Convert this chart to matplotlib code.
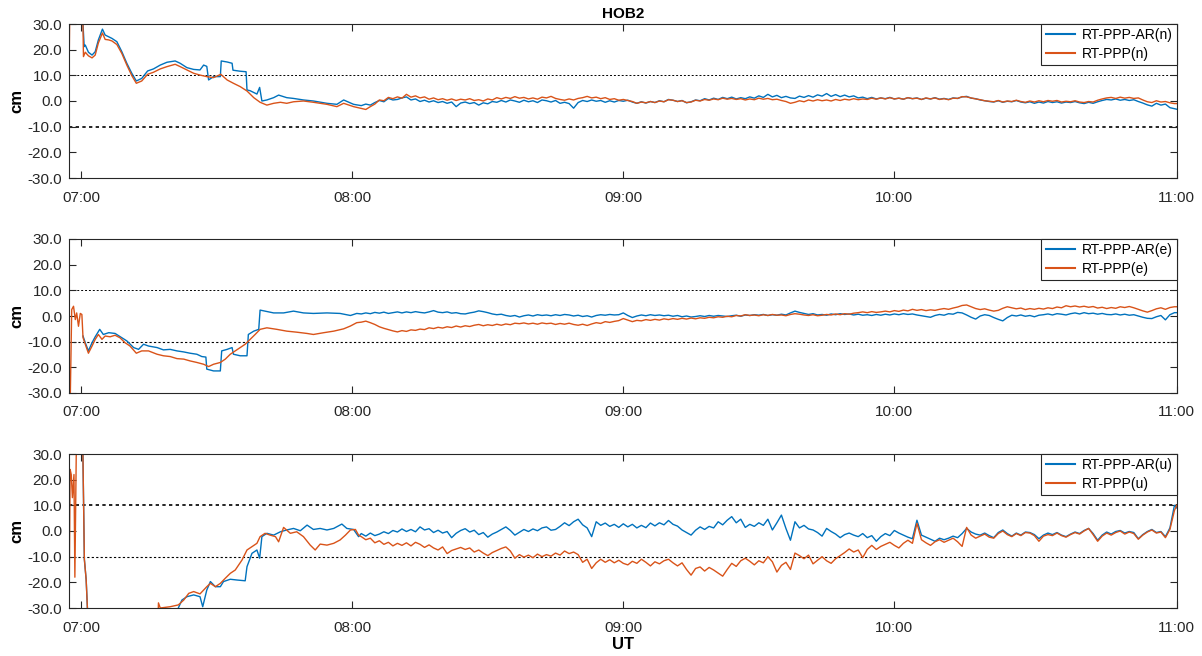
import numpy as np
import matplotlib
matplotlib.use("Agg")
import matplotlib.pyplot as plt
from matplotlib.ticker import FormatStrFormatter

plt.rcParams['font.family'] = ['Liberation Sans', 'DejaVu Sans']

# ---------------- data (time in minutes after 07:00 UT, values in cm) ----------------
tick_labels = ["07:00", "08:00", "09:00", "10:00", "11:00"]
y_ticks = [-30, -20, -10, 0, 10, 20, 30]
station = "HOB2"

# one-minute epochs (minutes 62..242 after 07:00) plus final epoch
t_late = list(range(62, 243)) + [242.5]

# ---------- North ----------
t_n_ar_early = [0.0, 0.4, 0.66, 0.9, 1.6, 2.4, 3.1, 3.8, 4.7, 5.3, 6.1, 6.8, 7.9, 9.0, 10.1, 11.2, 12.2, 13.4,
                14.7, 16.0, 17.5, 19.0, 20.8, 21.9, 23.4, 24.9, 26.3, 27.1, 27.8, 28.2, 29.3, 30.8, 31.0, 32.3,
                33.4, 33.6, 35.2, 36.5, 36.7, 37.4, 38.9, 39.5, 40.0, 41.1, 42.6, 43.7, 45.5, 47.0, 49.2, 51.4,
                54.4, 56.6, 58.1, 60.3]
v_n_ar_early = [40, 30, 21.2, 21.8, 19, 17.9, 19.2, 23.8, 28, 25.7, 25, 24.4, 23.1, 19.2, 14.7, 10.8, 7.8, 8.8,
                11.7, 12.5, 14, 15.1, 15.6, 14.7, 13, 12.3, 12.1, 14, 13.5, 8.2, 9.5, 9.5, 15.6, 15.2,
                14.7, 12, 11.6, 11.4, 4.3, 4, 2.7, 5.3, 0, 0.4, 1.3, 2.3, 1.3, 1, 0.4, 0,
                -0.9, -1.3, 0.4, -1.3]
v_n_ar_late = [-1.8, -1.2, -1.6, -0.6, 0.2, -0.3, 1.0, 0.4, 0.6, 1.2, 1.6, 0.4, 0.8, -0.2, 0.3, -0.4, 0.1, -0.6,
               -0.2, -0.9, -0.4, -2.2, -0.8, -0.4, -1.0, -0.6, -1.6, -0.7, -1.1, -0.2, -0.5, 0.2, -0.4, 0.4,
               0.0, -0.5, 0.3, -0.3, 0.1, -0.6, 0.4, 0.1, -0.4, 0.2, -0.9, -0.5, -1.0, -2.8, -0.6, 0.2, -0.2,
               0.4, -0.1, 0.2, -0.5, 0.1, -0.4, 0.2, -0.1, 0.3, -0.4, -0.9, -0.3, -0.8, -0.2, -0.6, 0.1, -0.3,
               0.6, 0.3, -0.2, 0.2, -0.7, -0.3, 0.4, 0.1, 0.9, 0.4, 1.1, 0.6, 1.4, 0.9, 1.5, 0.8, 1.3, 0.9,
               1.6, 1.1, 2.0, 1.4, 2.6, 1.6, 2.2, 1.3, 1.8, 1.2, 1.0, 1.9, 1.4, 2.1, 1.5, 2.4, 1.9, 2.9, 1.8,
               2.5, 1.7, 2.3, 1.6, 2.0, 1.2, 1.5, 0.9, 1.4, 0.8, 1.2, 0.9, 1.4, 0.8, 1.1, 0.7, 1.3, 0.9, 1.2,
               0.6, 1.1, 0.8, 1.3, 0.7, 1.0, 0.6, 1.2, 1.0, 1.6, 1.8, 1.1, 0.9, 0.4, 0.1, -0.2, -0.4, 0.1,
               -0.5, -0.1, -0.3, 0.2, -0.4, -0.7, -0.3, -0.9, -0.4, -0.8, -0.2, -0.6, -0.3, -0.8, -0.4, -0.6,
               -0.2, -0.7, -1.0, -0.5, -0.9, -0.3, 0.2, 0.6, 0.4, 0.8, 0.3, 0.6, 0.2, 0.5, -0.2, -0.8, -1.5,
               -2.0, -0.9, -1.6, -1.2, -2.6, -3.0, -3.2]

t_n_early = [-2.7, -2.5, 0.3, 0.5, 0.9, 1.6, 2.4, 3.1, 3.8, 4.7, 5.3, 6.1, 6.8, 7.9, 9.0, 10.1, 11.2, 12.2, 13.4,
             14.7, 16.0, 17.5, 19.0, 20.8, 21.9, 23.4, 24.9, 26.3, 27.8, 29.3, 30.9, 32.3, 33.7, 35.2, 36.7,
             38.2, 39.6, 41.1, 42.6, 44.1, 45.5, 47.0, 49.2, 51.4, 54.4, 56.6, 58.1, 60.3]
v_n_early = [10, 40, 40, 17.3, 19, 17.6, 16.8, 17.9, 22.6, 26.5, 24, 23.8, 23.4, 22, 18.5, 14, 9.9, 6.9, 7.8,
             10.4, 11.2, 12.5, 13.4, 14.3, 13.4, 12.1, 10.8, 10.1, 9.5, 9.1, 10.4, 8.2, 6.9, 5.6, 3.9,
             1.3, -0.5, -1.6, -0.9, -0.5, -0.9, -0.3, 0, -0.5, -1.3, -2.2, -0.9, -2.2]
v_n_late = [-2.9, -3.3, -2.2, -1.2, 0.4, 0.1, 1.4, 0.9, 1.6, 1.1, 2.6, 1.5, 2.0, 1.2, 1.6, 0.7, 1.2, 0.5, 0.9,
            0.3, 0.8, 0.2, 0.7, 0.4, 0.9, 0.2, 0.5, 0.0, 0.8, 0.4, 1.3, 0.8, 1.4, 1.0, 1.7, 1.1, 1.4, 0.8,
            1.2, 0.7, 1.5, 1.2, 1.8, 1.0, 0.6, 0.3, 0.8, 0.4, 1.0, 1.3, 1.8, 1.2, 1.5, 0.9, 1.3, 0.6, 0.9,
            0.3, 0.6, 0.2, -0.2, -0.9, -0.4, -0.7, -0.2, -0.6, 0.0, -0.3, 0.5, 0.3, -0.2, 0.1, -0.6, -0.4,
            0.3, 0.0, 0.6, 0.3, 0.8, 0.5, 1.1, 0.7, 1.0, 0.6, 0.9, 0.4, 0.8, 0.5, 1.1, 0.7, 1.0, 0.5, 0.7,
            0.2, -0.2, -0.9, -0.5, 0.1, -0.3, 0.4, 0.0, 0.5, 0.1, 0.4, 0.0, 0.6, 0.2, 0.7, 0.4, 0.9, 0.5,
            0.8, 0.6, 1.1, 0.7, 1.2, 0.8, 1.3, 0.8, 1.1, 0.7, 1.3, 0.9, 1.1, 0.6, 1.2, 0.8, 1.2, 0.6, 0.9,
            0.5, 1.1, 1.0, 1.7, 1.6, 1.2, 0.8, 0.5, 0.1, -0.1, -0.3, 0.2, -0.4, 0.0, -0.2, 0.3, -0.2, -0.5,
            0.0, -0.4, 0.1, -0.3, 0.2, -0.1, 0.2, -0.4, -0.1, -0.3, 0.1, -0.4, -0.6, -0.2, -0.4, 0.3, 0.8,
            1.2, 1.4, 1.0, 1.5, 1.1, 1.4, 1.0, 1.2, 0.4, -0.3, -0.6, 0.1, -0.4, -0.2, -0.7, -1.0, -1.0]

# ---------- East ----------
t_e_ar_early = [0.4, 0.9, 1.6, 2.4, 3.1, 4.1, 4.9, 6.1, 7.5, 9.0, 10.1, 11.6, 12.7, 13.8, 14.9, 16.8, 18.2,
                19.7, 21.2, 22.7, 24.1, 25.6, 26.7, 27.6, 27.8, 29.3, 30.8, 31.1, 32.3, 33.4, 33.7, 35.2, 36.7,
                37.0, 38.2, 39.3, 39.6, 40.7, 42.6, 44.8, 47.0, 49.2, 51.4, 54.4, 57.3, 59.6, 61.0]
v_e_ar_early = [-7.8, -10.4, -13.6, -10.4, -8.1, -5.2, -7.2, -6.5, -6.8, -8.5, -9.7, -12.3, -13, -11, -11.7,
                -12.3, -13.2, -13, -13.6, -14, -14.5, -14.9, -15.8, -16, -20.7, -21.4, -21.4, -13.6, -13,
                -12.3, -14.9, -15.5, -15.5, -7.2, -5.9, -5.2, 2.3, 1.9, 1.2, 1.2, 1.9, 1.2, 1, 1.2, 1, 0.2, 1]
v_e_ar_late = [0.8, 1.2, 0.9, 1.4, 1.1, 1.5, 1.0, 1.3, 1.6, 1.2, 1.6, 1.3, 1.7, 1.4, 1.2, 1.6, 2.1, 1.5, 1.3,
               1.6, 1.1, 1.3, 0.9, 0.8, 1.2, 1.5, 2.0, 1.7, 1.3, 0.8, 0.5, 0.7, 0.2, -0.1, 0.2, -0.4, 0.1,
               0.4, 0.0, 0.5, 0.2, 0.4, 0.1, 0.5, 0.2, 0.6, 0.4, 0.0, 0.3, -0.2, 0.1, -0.4, 0.2, 0.5, 0.3,
               0.6, 0.4, 0.5, 1.2, 0.2, -0.6, 0.0, 0.4, 0.1, 0.5, 0.2, 0.4, 0.1, 0.3, -0.1, 0.2, -0.3, 0.0,
               -0.4, -0.2, 0.1, -0.2, 0.2, -0.1, 0.2, 0.0, -0.2, 0.1, 0.3, -0.1, 0.4, 0.2, 0.5, 0.3, 0.6,
               0.2, 0.5, 0.3, 0.7, 0.4, 1.2, 1.9, 1.4, 1.0, 0.6, 0.9, 0.4, 0.6, 0.3, 0.8, 0.5, 0.9, 0.6,
               0.8, 0.4, 0.7, 0.3, 0.5, 0.2, 0.6, 0.3, 0.7, 0.4, 0.8, 0.5, 0.9, 0.6, 0.8, 0.4, 0.1, -0.2,
               -0.5, 0.2, 0.6, 0.3, 0.9, 0.7, 1.4, 1.2, 0.4, -0.5, -1.2, 0.0, 0.5, 0.2, -0.6, -1.3, -1.9,
               -0.6, 0.3, 0.0, 0.4, -0.1, 0.2, -0.3, 0.3, 0.5, 0.8, 0.4, 0.9, 0.7, 0.4, 0.9, 1.2, 0.8, 1.3,
               0.9, 1.1, 0.7, 1.0, 0.6, 0.5, 0.8, 0.4, 0.7, 0.3, 0.5, 0.0, -0.5, -0.9, -1.0, -0.3, 0.2,
               -1.5, 0.5, 1.3, 1.3]

t_e_early = [-2.7, -2.4, -2.1, -1.7, -1.3, -1.0, -0.6, -0.2, 0.15, 0.4, 0.9, 1.6, 2.4, 3.1, 3.8, 4.6, 5.3, 6.4,
             7.5, 8.6, 9.7, 10.8, 12.2, 13.4, 14.9, 16.8, 18.2, 19.7, 21.2, 22.7, 24.1, 25.6, 27.1, 28.2, 29.3,
             30.8, 31.9, 33.0, 34.1, 35.2, 36.3, 37.4, 38.5, 39.6, 41.1, 43.3, 45.5, 47.7, 50.0, 51.4, 53.7,
             55.9, 58.1, 59.6, 61.0]
v_e_early = [-35, -30, 2.5, 3.8, -1.4, 1.2, -4, 1, 0.6, -8.4, -11, -14.5, -11.7, -9.1, -7.2, -9.1, -7.8, -8.1,
             -7.5, -8.5, -10.4, -11.7, -14.5, -13.6, -13.6, -14.9, -15.5, -15.8, -16.6, -16.8, -17.5, -18.1,
             -18.8, -19.7, -18.8, -18.1, -16.8, -14.9, -13.6, -12.3, -11, -9.1, -7.2, -5.2, -4.6, -5.2, -5.9,
             -6.3, -6.8, -7.2, -6.5, -5.9, -5, -3.9, -2.6]
v_e_late = [-2.4, -2.0, -2.6, -3.3, -4.2, -4.8, -5.3, -5.8, -6.2, -5.7, -6.0, -5.4, -5.6, -5.1, -5.3, -4.6,
            -4.9, -4.4, -4.7, -4.2, -4.5, -3.9, -4.3, -3.8, -4.1, -3.6, -3.3, -3.8, -3.4, -3.7, -3.2, -3.6,
            -3.1, -3.4, -2.8, -3.0, -2.7, -3.1, -2.8, -3.2, -2.7, -3.0, -2.8, -3.3, -2.9, -3.2, -2.8, -3.3,
            -3.6, -3.2, -3.7, -3.1, -2.6, -2.9, -2.2, -2.5, -2.1, -1.8, -1.0, -1.6, -2.2, -1.7, -1.9, -1.4,
            -1.7, -1.3, -1.6, -1.1, -1.4, -1.0, -1.3, -0.9, -1.2, -0.8, -1.1, -0.7, -0.9, -0.5, -0.7, -0.3,
            -0.5, -0.1, -0.3, 0.2, 0.0, 0.5, 0.2, 0.4, 0.1, 0.5, 0.2, 0.6, 0.3, 0.4, 0.1, 0.6, 0.9, 0.7,
            0.4, 0.2, 0.5, 0.1, 0.3, 0.6, 0.4, 0.8, 0.5, 0.9, 0.7, 1.1, 1.3, 1.6, 1.3, 1.7, 1.4, 1.6, 1.9,
            1.6, 2.1, 1.8, 2.3, 2.0, 2.6, 2.2, 2.5, 2.1, 2.4, 2.2, 2.6, 2.9, 2.6, 3.1, 3.5, 4.1, 4.3, 3.6,
            2.9, 2.5, 2.8, 2.3, 1.9, 2.2, 3.0, 3.6, 3.2, 2.8, 3.1, 2.5, 2.9, 2.6, 3.0, 2.7, 3.2, 2.9, 3.5,
            3.2, 4.0, 3.6, 3.9, 3.5, 3.8, 3.4, 3.7, 3.1, 3.4, 2.9, 3.3, 3.0, 3.6, 3.3, 3.7, 3.2, 2.6, 2.0,
            1.5, 2.1, 2.8, 3.2, 2.6, 3.3, 3.6, 3.6]

# ---------- Up ----------
t_u_ar_early = [0.0, 0.3, 0.7, 1.1, 1.5, 21.0, 21.5, 22.3, 23.4, 24.9, 26.3, 26.9, 27.8, 28.6, 29.7, 30.8, 31.5,
                33.0, 34.5, 36.3, 36.7, 37.8, 38.9, 39.5, 40.0, 41.1, 42.6, 44.1, 45.5, 47.0, 48.5, 50.0, 51.4,
                52.9, 54.4, 55.9, 57.7, 58.8, 60.3, 61.4]
v_u_ar_early = [40, 40, -11, -19, -35, -35, -30, -26.9, -25.6, -24.9, -25.6, -29.5, -23, -19.7, -21.7, -21.7,
                -19.7, -18.8, -19.1, -19.4, -13.9, -8.7, -7.4, -10.6, -2.2, -0.9, -1.6, -0.3, 0.4, 1, 0.1, 2.3,
                0.6, 1, 0.4, 1, 2.7, 1, 0.6, -2.2]
v_u_ar_late = [-1.0, -2.0, -0.8, -1.8, -1.2, -0.3, -1.0, 0.2, -0.4, 0.8, -0.2, 0.6, -0.3, 1.6, 0.4, 0.9, -0.6,
               0.3, -0.8, -0.2, -2.6, -0.9, 0.2, 0.9, -0.4, 0.3, -1.4, -0.6, -2.4, -1.2, -0.4, 0.6, 1.6, 0.2,
               -1.6, -0.5, 0.6, -0.2, 0.8, 0.1, 1.2, 1.6, 0.3, 0.6, 1.8, 3.2, 2.1, 3.6, 4.6, 2.4, 1.2, -2.2,
               3.6, 2.2, 3.1, 1.8, 2.6, 1.4, 2.8, 1.6, 2.6, 1.2, 2.2, 1.3, 3.1, 2.0, 3.2, 2.4, 4.1, 2.6, 1.9,
               0.4, -0.6, -1.6, 0.3, 1.6, 0.6, 1.8, 1.2, 3.6, 2.4, 4.2, 5.6, 3.2, 4.6, 1.4, 2.6, 1.8, 3.2,
               2.2, 4.6, 0.4, 3.2, 6.2, 1.0, -3.6, 3.6, 1.2, 2.2, 0.8, 0.4, -0.6, -2.0, 1.0, -0.2, -1.2,
               -2.6, -1.4, -0.8, -1.6, -2.2, -1.0, -2.6, -1.8, -4.0, -2.2, -1.0, -1.8, 0.2, -0.8, -1.6, -2.4,
               -3.0, 4.2, -1.6, -2.4, -3.2, -4.0, -2.8, -3.4, -2.8, -2.0, -2.6, -1.0, 1.0, -0.4, -1.2, -1.6,
               -0.8, -1.8, -2.6, -0.6, 0.4, -1.0, -2.0, -0.8, -1.6, -0.4, -0.6, -1.4, -3.0, -1.6, -0.8, -1.4,
               -0.6, -1.6, -2.2, -1.2, -0.4, -1.0, 0.2, 1.0, -1.0, -3.6, -1.6, -0.4, -1.2, -0.2, 0.2, -0.8,
               -0.2, -0.6, -3.0, -1.4, -0.2, 0.6, -0.6, -0.2, -2.2, 1.2, 10.0, 9.0]

t_u_early = [-2.7, -2.45, -2.2, -1.95, -1.6, -1.4, -1.1, -0.8, 0.3, 0.7, 1.1, 1.5, 17.0, 17.1, 17.5, 19.7, 21.5,
             22.7, 23.8, 24.9, 26.3, 27.8, 28.6, 29.7, 30.8, 31.9, 33.0, 34.1, 35.6, 36.7, 37.8, 38.9, 39.6,
             40.7, 41.8, 43.0, 43.7, 44.8, 46.3, 47.7, 49.2, 50.7, 51.8, 52.9, 54.4, 55.9, 57.3, 58.5, 59.6,
             60.7, 61.4]
v_u_early = [-35, 24, 22, 13, 22, -18, 29, 40, 40, -11, -19, -35, -35, -28, -30, -29.5, -28.8, -26.9, -24.3,
             -23.6, -24.5, -21.7, -20.4, -21.7, -20.4, -18.4, -16.5, -15.2, -11.3, -7.4, -6.1, -4.8, -2.2,
             -0.9, -1.6, -2.2, -4.2, 1.4, -0.9, -0.3, -2.2, -5.5, -7.4, -5.1, -5.5, -4.8, -3.5, -1.6, 0.4,
             0.6, -1.6]
v_u_late = [-2.2, -3.4, -2.8, -4.6, -3.8, -5.2, -4.4, -5.8, -4.8, -5.6, -4.6, -5.8, -4.4, -5.2, -6.4, -5.4,
            -6.6, -7.4, -6.2, -8.8, -7.6, -7.0, -6.4, -7.2, -6.6, -8.2, -7.4, -8.6, -9.6, -8.4, -7.6, -6.8,
            -6.2, -7.8, -10.6, -9.2, -10.2, -9.4, -10.4, -9.0, -10.0, -9.2, -9.8, -8.6, -9.4, -7.8, -8.8,
            -8.2, -9.2, -12.2, -11.0, -14.6, -12.4, -11.0, -12.2, -11.2, -12.4, -11.4, -12.6, -13.2, -11.8,
            -12.6, -11.0, -12.2, -13.6, -12.0, -12.8, -11.6, -11.0, -12.4, -13.6, -12.4, -15.0, -17.2, -14.6,
            -14.0, -15.6, -14.2, -15.2, -16.4, -17.6, -15.0, -12.6, -13.8, -11.6, -10.6, -11.8, -13.2, -11.6,
            -12.4, -10.0, -12.0, -16.0, -13.4, -12.2, -15.0, -8.6, -9.6, -10.8, -9.4, -12.8, -11.4, -10.0,
            -11.6, -12.6, -10.8, -9.6, -8.4, -7.0, -8.2, -7.4, -10.4, -7.2, -5.6, -7.2, -6.0, -5.2, -4.4,
            -5.6, -6.6, -4.8, -3.6, -4.8, 3.0, -3.4, -4.6, -5.6, -4.2, -3.4, -4.4, -3.6, -2.8, -4.2, -6.0,
            1.4, -1.6, -2.8, -2.0, -1.2, -2.4, -2.8, -1.0, 0.0, -1.4, -2.2, -1.0, -1.8, -0.6, -0.8, -1.8,
            -4.0, -2.0, -1.4, -1.8, -0.8, -1.8, -2.4, -1.4, -0.6, -1.2, 0.0, 1.0, -1.4, -4.0, -2.0, -0.8,
            -1.6, -0.6, 0.0, -1.2, -0.4, -1.0, -3.2, -1.6, -0.4, 0.4, -0.8, -0.4, -2.6, 0.6, 8.0, 10.0]

panels = [
    (t_n_ar_early, v_n_ar_early, v_n_ar_late, t_n_early, v_n_early, v_n_late, "RT-PPP-AR(n)", "RT-PPP(n)"),
    (t_e_ar_early, v_e_ar_early, v_e_ar_late, t_e_early, v_e_early, v_e_late, "RT-PPP-AR(e)", "RT-PPP(e)"),
    (t_u_ar_early, v_u_ar_early, v_u_ar_late, t_u_early, v_u_early, v_u_late, "RT-PPP-AR(u)", "RT-PPP(u)"),
]

# ---------------- figure ----------------
W, H = 1202, 656
fig = plt.figure(figsize=(W / 100, H / 100), dpi=100)
BLUE = "#0072BD"
ORANGE = "#D95319"
AXC = "#262626"

x0, x1 = 69, 1176.7
tops = [24, 239, 454]
ph = 154
xmin, xmax = -2.7, 242.5
# reference-line widths (+10, -10) per panel, as rendered in the original
ref_lw = [(0.7, 1.2), (0.7, 0.8), (1.2, 0.8)]

for i, (tae, vae, val, tbe, vbe, vbl, la, lb) in enumerate(panels):
    top = tops[i]
    ax = fig.add_axes([x0 / W, 1 - (top + ph) / H, (x1 - x0) / W, ph / H])
    ax.plot(tae + t_late, vae + val, color=BLUE, lw=1.0, label=la)
    ax.plot(tbe + t_late, vbe + vbl, color=ORANGE, lw=1.0, label=lb)
    ax.axhline(10, color="k", ls=(0, (2, 2)), lw=ref_lw[i][0], zorder=1)
    ax.axhline(-10, color="k", ls=(0, (2, 2)), lw=ref_lw[i][1], zorder=1)
    ax.set_xlim(xmin, xmax)
    ax.set_ylim(-30, 30)
    ax.set_yticks(y_ticks)
    ax.yaxis.set_major_formatter(FormatStrFormatter("%.1f"))
    ax.set_xticks([0, 60, 120, 180, xmax])
    ax.set_xticklabels(tick_labels)
    ax.tick_params(axis="both", direction="in", top=True, right=True, length=5, width=0.8,
                   color=AXC, labelcolor=AXC, labelsize=11)
    ax.tick_params(axis="x", pad=9)
    ax.tick_params(axis="y", pad=5)
    for s in ax.spines.values():
        s.set_color(AXC)
        s.set_linewidth(0.8)
    ax.set_ylabel("cm", fontsize=12, fontweight="bold", labelpad=2.5)
    leg = ax.legend(loc="upper right", borderaxespad=0, fancybox=False, framealpha=1,
                    edgecolor=AXC, fontsize=10, handlelength=2.1, labelspacing=0.35,
                    borderpad=0.3, handletextpad=0.5)
    leg.get_frame().set_linewidth(0.8)
    for line in leg.get_lines():
        line.set_linewidth(1.5)
    if i == 0:
        ax.set_title(station, fontsize=11, fontweight="bold", pad=4)
    if i == 2:
        ax.set_xlabel("UT", fontsize=12, fontweight="bold", labelpad=2)

fig.savefig("out.png", dpi=100)
